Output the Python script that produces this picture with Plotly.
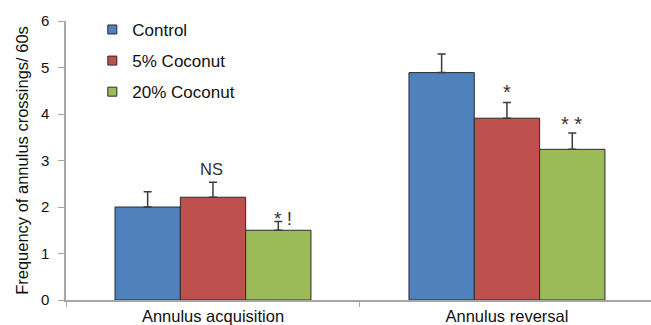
import plotly.graph_objects as go

categories = ["Annulus acquisition", "Annulus reversal"]
series_names = ["Control", "5% Coconut", "20% Coconut"]
control = [2.0, 4.89]
coconut5 = [2.21, 3.91]
coconut20 = [1.50, 3.24]
err_control = [0.33, 0.40]
err_coconut5 = [0.32, 0.34]
err_coconut20 = [0.19, 0.35]
colors = ["#4f81bd", "#c0504d", "#9bbb59"]
y_ticks = [0, 1, 2, 3, 4, 5, 6]

sig_labels = [["", "NS", "* !"], ["", "*", "* *"]]

FONT = "Liberation Sans, Arial"
fig = go.Figure()
values = [control, coconut5, coconut20]
errs = [err_control, err_coconut5, err_coconut20]
for i, name in enumerate(series_names):
    fig.add_trace(go.Bar(
        x=categories, y=values[i], name=name, showlegend=False,
        marker=dict(color=colors[i], line=dict(color="#2b2b2b", width=1)),
        error_y=dict(type="data", symmetric=False, array=errs[i],
                     arrayminus=[0] * len(categories),
                     color="#3a3a3a", thickness=1.5, width=4),
    ))
# legend entries (small square keys)
for i, name in enumerate(series_names):
    fig.add_trace(go.Scatter(
        x=[None], y=[None], mode="markers", name=name, legendgroup=name,
        marker=dict(symbol="square", size=9, color=colors[i],
                    line=dict(color="#2b2b2b", width=1)),
    ))

# significance labels
offsets = [-1, 0, 1]
bar_w = (1 - 1 / 3) / 3
label_style = {
    "NS": dict(size=16.5, yshift=13, xshift=-1),
    "* !": dict(size=19, yshift=3, xshift=5),
    "*": dict(size=20, yshift=10, xshift=0),
    "* *": dict(size=20, yshift=9, xshift=-1),
}
for ci, cat in enumerate(categories):
    for si in range(3):
        lab = sig_labels[ci][si]
        if not lab:
            continue
        st = label_style[lab]
        top = values[si][ci] + errs[si][ci]
        fig.add_annotation(
            x=ci + offsets[si] * bar_w, y=top, xref="x", yref="y",
            text=lab, showarrow=False, yanchor="middle",
            yshift=st["yshift"], xshift=st["xshift"],
            font=dict(family=FONT, size=st["size"], color="#333333"),
        )

fig.update_layout(
    width=651, height=325,
    margin=dict(l=66, r=0, t=21, b=25),
    paper_bgcolor="white", plot_bgcolor="white",
    barmode="group", bargap=1 / 3, bargroupgap=0,
    font=dict(family=FONT, color="#111111"),
    showlegend=True,
    legend=dict(x=0.045, y=1.0325, xanchor="left", yanchor="top",
                font=dict(size=17), tracegroupgap=6,
                bgcolor="rgba(0,0,0,0)"),
)
fig.update_xaxes(
    type="category", range=[-0.5, 1.49],
    showline=True, linecolor="#a6a6a6", linewidth=1.5,
    ticks="outside", tickson="boundaries", ticklen=5, tickcolor="#a6a6a6",
    tickfont=dict(size=16.5, color="#111111"), showgrid=False,
)
fig.update_yaxes(
    range=[0, 6], tickvals=y_ticks,
    showline=True, linecolor="#a6a6a6", linewidth=1.5,
    ticks="outside", ticklen=6, tickcolor="#a6a6a6",
    tickfont=dict(size=15, color="#111111"), ticklabelstandoff=6,
    showgrid=False, zeroline=False,
    title=dict(text="Frequency of annulus crossings/ 60s",
               font=dict(size=16.5, color="#111111"), standoff=8),
)

fig.write_html("out.html")
